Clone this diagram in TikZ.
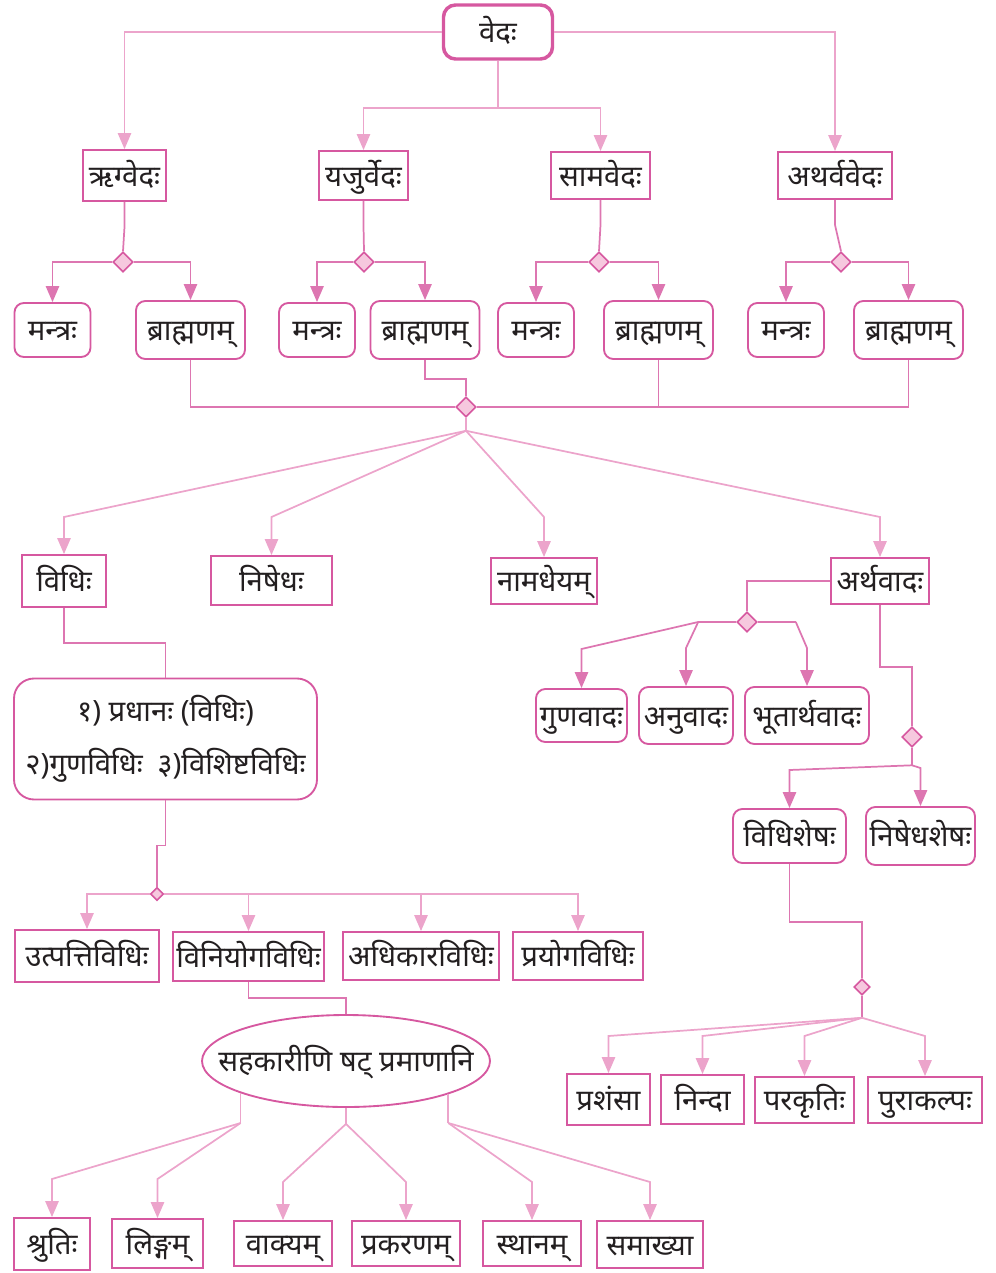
\documentclass[tikz,border=0pt]{standalone}
\usepackage{fontspec}
\newfontfamily\deva[Script=Devanagari]{Noto Sans}
\usetikzlibrary{arrows.meta,shapes.geometric}
\definecolor{boxpink}{RGB}{214,88,160}
\definecolor{litepink}{RGB}{236,164,203}
\definecolor{darkpink}{RGB}{221,118,177}
\definecolor{diafill}{RGB}{246,200,222}
\definecolor{ink}{RGB}{35,31,32}

\begin{document}
\begin{tikzpicture}[x=0.75pt,y=-0.75pt,
  every node/.style={font=\deva\fontsize{22}{26}\selectfont,text=ink,inner sep=0pt},
  wh/.style 2 args={minimum width=#1*0.75pt,minimum height=#2*0.75pt},
  lbl/.style={text height=19pt,text depth=3pt},
  sq/.style={lbl,draw=boxpink,line width=1.4pt},
  rnd/.style={lbl,draw=boxpink,line width=1.4pt,rounded corners=7pt},
  dia/.style={diamond,draw=boxpink,fill=diafill,line width=1.2pt,minimum size=#1*0.75pt},
  dia/.default=20,
  lite/.style={draw=litepink,line width=1.3pt},
  dark/.style={draw=darkpink,line width=1.3pt},
  tip/.style={-{Triangle[width=10pt,length=12pt]}}]

\useasboundingbox (0,0) rectangle (995,1273);

\node[rnd,line width=2.6pt,rounded corners=9pt,wh={109}{54}] (veda) at (498,32) {वेदः};

\node[sq,wh={83}{51}]  (rig)  at (124.5,175.5) {ऋग्वेदः};
\node[sq,wh={89}{49}]  (yaju) at (363.5,175.5) {यजुर्वेदः};
\node[sq,wh={99}{47}]  (sama) at (600.5,175.5) {सामवेदः};
\node[sq,wh={114}{47}] (atha) at (835,175.5)   {अथर्ववेदः};

\draw[lite,tip] (veda.west) -| (rig.north);
\draw[lite,tip] (veda.east) -| (atha.north);
\draw[lite] (veda.south) -- ++(0,47) coordinate (vj);
\draw[lite,tip] (vj) -| (yaju.north);
\draw[lite,tip] (vj) -| (sama.north);

\foreach \v/\dx/\mx/\bx in {rig/123/52.5/190.5,yaju/364/317/425,sama/599/536/658.5,atha/841/786/908.5}{
  \node[dia] (d\v) at (\dx,262) {};
  \node[rnd,wh={76}{54}]  (m\v) at (\mx,330) {मन्त्रः};
  \node[rnd,wh={109}{58}] (b\v) at (\bx,330) {ब्राह्मणम्};
  \draw[dark] (\v.south) -- ++(0,25) -- (d\v.north);
  \draw[dark,tip] (d\v.west) -| (m\v.north);
  \draw[dark,tip] (d\v.east) -| (b\v.north);
}

\node[dia] (bd) at (466,407) {};
\draw[dark] (brig.south) |- (bd.west);
\draw[dark] (batha.south) |- (bd.east);
\draw[dark] (bsama.south) -- (bsama.south |- bd.east);
\draw[dark] (byaju.south) -- ++(0,19) -| (bd.north);

\node[sq,wh={84}{52}]  (vidhi) at (64,581)    {विधिः};
\node[sq,wh={121}{49}] (nish)  at (271.5,580.5) {निषेधः};
\node[sq,wh={106}{46}] (nama)  at (544,581)   {नामधेयम्};
\node[sq,wh={98}{46}]  (artha) at (880,581)   {अर्थवादः};

\draw[lite] (bd.south) -- ++(0,13) coordinate (bj);
\foreach \n in {vidhi,nish,nama,artha}
  \draw[lite,tip] (bj) -- (\n.north |- 0,517) -- (\n.north);

\node[draw=boxpink,line width=1.4pt,rounded corners=15pt,wh={303}{121},align=center] (pradh) at (165.5,739)
  {१) प्रधानः (विधिः)\\[14pt]२)गुणविधिः\enspace ३)विशिष्टविधिः};
\draw[dark] (vidhi.south) -- ++(0,35) -| (pradh.north);

\node[dia=13] (sd) at (157,894) {};
\draw[dark] (pradh.south) -- ++(0,45) -| (sd.north);

\node[sq,wh={144}{52}] (utp)  at (87,956)    {उत्पत्तिविधिः};
\node[sq,wh={151}{49}] (vini) at (248.5,956.5) {विनियोगविधिः};
\node[sq,wh={156}{48}] (adhi) at (421,956)   {अधिकारविधिः};
\node[sq,wh={130}{48}] (pray) at (578,956)   {प्रयोगविधिः};

\draw[lite,tip] (sd.west) -| (utp.north);
\foreach \n in {vini,adhi,pray}
  \draw[lite,tip] (sd.east) -| (\n.north);

\node[ellipse,lbl,draw=boxpink,line width=1.4pt,inner xsep=-40pt,wh={288}{92}] (sah) at (346,1061) {सहकारीणि षट् प्रमाणानि};
\draw[dark] (vini.south) -- ++(0,16) -| (sah.north);

\draw[lite] (sah.197.7) -- (sah.197.7 |- 0,1123) coordinate (sl);
\draw[lite] (sah.south) -- ++(0,16) coordinate (sc);
\draw[lite] (sah.342.3) -- (sah.342.3 |- 0,1123) coordinate (sr);

\node[sq,wh={76}{52}]  (shru)  at (52,1244)    {श्रुतिः};
\node[sq,wh={91}{49}]  (linga) at (157.5,1243.5) {लिङ्गम्};
\node[sq,wh={98}{45}]  (vakya) at (283,1243.5)  {वाक्यम्};
\node[sq,wh={108}{45}] (prak)  at (406,1243.5)  {प्रकरणम्};
\node[sq,wh={98}{45}]  (stha)  at (532,1243.5)  {स्थानम्};
\node[sq,wh={106}{47}] (samk)  at (650,1244.5)  {समाख्या};

\draw[lite,tip] (sl) -- (shru.north |- 0,1179) -- (shru.north);
\draw[lite,tip] (sl) -- (linga.north |- 0,1179) -- (linga.north);
\draw[lite,tip] (sc) -- (vakya.north |- 0,1182) -- (vakya.north);
\draw[lite,tip] (sc) -- (prak.north |- 0,1182) -- (prak.north);
\draw[lite,tip] (sr) -- (stha.north |- 0,1182) -- (stha.north);
\draw[lite,tip] (sr) -- (samk.north |- 0,1182) -- (samk.north);

\node[dia] (ad) at (747,622) {};
\draw[dark] (artha.west) -| (ad.north);
\draw[dark] (ad.west) -- ++(-38,0) coordinate (al);
\draw[dark] (ad.east) -- ++(38,0) coordinate (ar);

\node[rnd,wh={91}{53}]  (guna)  at (581.5,715.5) {गुणवादः};
\node[rnd,wh={94}{57}]  (anu)   at (686,715.5)   {अनुवादः};
\node[rnd,wh={124}{57}] (bhuta) at (807,715.5)   {भूतार्थवादः};

\draw[dark,tip] (al) -- (guna.north |- 0,649) -- (guna.north);
\draw[dark,tip] (al) -- (anu.north |- 0,648) -- (anu.north);
\draw[dark,tip] (ar) -- (bhuta.north |- 0,648) -- (bhuta.north);

\node[dia] (ad2) at (912,737) {};
\draw[dark] (artha.south) -- ++(0,62) -| (ad2.north);
\draw[dark] (ad2.south) -- ++(0,17.5) coordinate (sj);

\node[rnd,wh={113}{54}] (vshe) at (789.5,836) {विधिशेषः};
\node[rnd,wh={109}{58}] (nshe) at (920.5,836) {निषेधशेषः};

\draw[dark,tip] (sj) -- (vshe.north |- 0,770) -- (vshe.north);
\draw[dark,tip] (sj) -- (nshe.north |- 0,768) -- (nshe.north);

\node[dia=16] (vd) at (862,987) {};
\draw[dark] (vshe.south) -- ++(0,58) -| (vd.north);
\draw[dark] (vd.south) -- ++(0,22) coordinate (vj2);

\node[sq,wh={83}{51}]  (pras)  at (608.5,1099.5) {प्रशंसा};
\node[sq,wh={83}{49}]  (ninda) at (702.5,1099.5) {निन्दा};
\node[sq,wh={99}{46}]  (para)  at (804.5,1100)   {परकृतिः};
\node[sq,wh={114}{46}] (pura)  at (925,1100)     {पुराकल्पः};

\foreach \n in {pras,ninda,para,pura}
  \draw[lite,tip] (vj2) -- (\n.north |- 0,1036) -- (\n.north);

\end{tikzpicture}
\end{document}
